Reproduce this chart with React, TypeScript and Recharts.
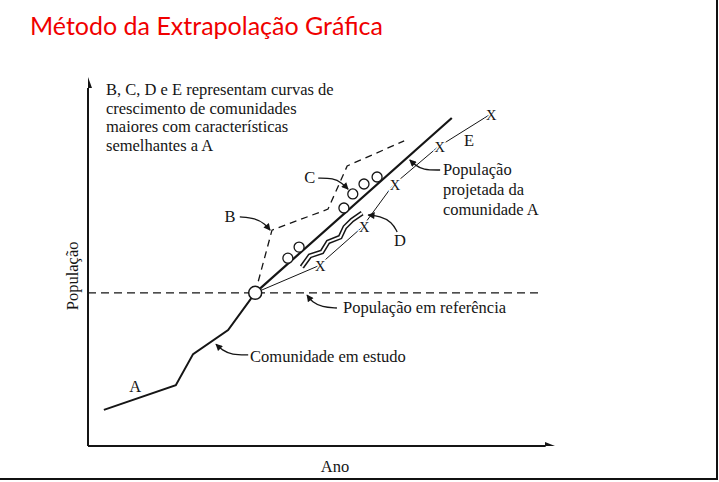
import React from 'react';
import {
  ComposedChart,
  Line,
  Scatter,
  XAxis,
  YAxis,
  ReferenceLine,
  ReferenceDot,
  Customized,
} from 'recharts';

// Unidades arbitrárias: Ano 0..100, População 0..100
const comunidadeA = [
  { x: 3.4, y: 9.8 },
  { x: 18.8, y: 16.5 },
  { x: 22.5, y: 24.9 },
  { x: 30.0, y: 31.4 },
  { x: 35.8, y: 41.5 },
];
const pontoReferencia = [{ x: 35.8, y: 41.5 }];
const populacaoReferencia = 41.5;
const fimReferencia = 96.8;
const projecaoA = [
  { x: 35.8, y: 41.5 },
  { x: 77.9, y: 88.9 },
];
const curvaB = [
  { x: 35.8, y: 41.5 },
  { x: 39.4, y: 58.5 },
  { x: 51.4, y: 64.2 },
  { x: 55.5, y: 75.9 },
  { x: 67.7, y: 82.7 },
];
const curvaC = [
  { x: 42.8, y: 50.9 },
  { x: 45.2, y: 53.9 },
  { x: 54.8, y: 64.5 },
  { x: 56.7, y: 68.3 },
  { x: 59.1, y: 71.0 },
  { x: 61.9, y: 72.9 },
];
const curvaD = [
  { x: 45.8, y: 48.5 },
  { x: 47.5, y: 51.5 },
  { x: 50.1, y: 52.6 },
  { x: 51.4, y: 55.3 },
  { x: 54.0, y: 56.6 },
  { x: 55.0, y: 59.3 },
  { x: 56.5, y: 61.2 },
  { x: 58.7, y: 63.1 },
];
const marcadoresE = [
  { x: 49.3, y: 48.8 },
  { x: 58.7, y: 59.3 },
  { x: 65.3, y: 70.7 },
  { x: 74.9, y: 81.0 },
  { x: 85.9, y: 89.7 },
];
const curvaE = [{ x: 35.8, y: 41.5 }, ...marcadoresE];

// setas de anotação
const setaC = [
  { x: 49.3, y: 72.6 },
  { x: 52.5, y: 72.6 },
  { x: 54.4, y: 71.3 },
  { x: 55.7, y: 69.6 },
];
const setaB = [
  { x: 32.5, y: 62.1 },
  { x: 35.8, y: 61.8 },
  { x: 37.9, y: 60.2 },
  { x: 39.0, y: 58.5 },
];
const setaProjetada = [
  { x: 75.4, y: 74.8 },
  { x: 71.7, y: 74.8 },
  { x: 70.0, y: 76.2 },
  { x: 68.9, y: 77.5 },
];
const setaD = [
  { x: 66.2, y: 58.0 },
  { x: 65.1, y: 60.7 },
  { x: 62.5, y: 62.3 },
  { x: 60.0, y: 62.6 },
];
const setaReferencia = [
  { x: 53.3, y: 37.4 },
  { x: 50.1, y: 37.7 },
  { x: 48.0, y: 39.0 },
  { x: 46.9, y: 40.9 },
];
const setaComunidade = [
  { x: 34.3, y: 24.7 },
  { x: 30.8, y: 24.7 },
  { x: 28.7, y: 26.0 },
  { x: 27.4, y: 27.6 },
];
const setas = [setaC, setaB, setaProjetada, setaD, setaReferencia, setaComunidade];

const titulo = 'Método da Extrapolação Gráfica';
const rotuloX = 'Ano';
const rotuloY = 'População';
const paragrafo = [
  'B, C, D e E representam curvas de',
  'crescimento de comunidades',
  'maiores com características',
  'semelhantes a A',
];
const textoProjetada = ['População', 'projetada da', 'comunidade A'];
const rotulos = [
  { x: 47.5, y: 71.3, t: 'C', a: 'middle' },
  { x: 30.4, y: 60.7, t: 'B', a: 'middle' },
  { x: 81.6, y: 81.3, t: 'E', a: 'middle' },
  { x: 66.8, y: 54.2, t: 'D', a: 'middle' },
  { x: 10.1, y: 14.6, t: 'A', a: 'middle' },
  { x: 54.6, y: 36.0, t: 'População em referência', a: 'start' },
  { x: 34.7, y: 22.8, t: 'Comunidade em estudo', a: 'start' },
  { x: 52.9, y: -7.0, t: rotuloX, a: 'middle' },
];

const SERIF = '"Liberation Serif", "Times New Roman", serif';
const INK = '#151515';
const FS = 16.5;

const circulo = (p: any) => (
  <circle cx={p.cx} cy={p.cy} r={5} fill="#fff" stroke={INK} strokeWidth={1.3} />
);
const circuloGrande = (p: any) => (
  <circle cx={p.cx} cy={p.cy} r={6.5} fill="#fff" stroke={INK} strokeWidth={1.5} />
);
const marcaX = (p: any) => (
  <text
    x={p.cx + 2}
    y={p.cy + 5}
    textAnchor="middle"
    fontFamily={SERIF}
    fontSize={14.5}
    fill={INK}
    stroke="#fff"
    strokeWidth={3}
    paintOrder="stroke"
  >
    X
  </text>
);
const setaEixoX = (p: any) => (
  <path d={`M${p.cx},${p.cy} L${p.cx - 10},${p.cy - 4} L${p.cx - 10},${p.cy + 4} Z`} fill={INK} />
);
const setaEixoY = (p: any) => (
  <path d={`M${p.cx},${p.cy} L${p.cx - 4},${p.cy + 11} L${p.cx + 4},${p.cy + 11} Z`} fill={INK} />
);

export default function App() {
  return (
    <div style={{ position: 'absolute', left: 0, top: 0, width: 719, height: 482, background: '#fff', overflow: 'hidden' }}>
      <div
        style={{
          position: 'absolute',
          left: 0,
          top: 0,
          width: 716,
          height: 478,
          borderRight: '2px solid #111',
          borderBottom: '2px solid #111',
        }}
      />
      <div style={{ position: 'absolute', left: 0, top: 0 }}>
        <ComposedChart width={719} height={482} margin={{ top: 77, right: 164, bottom: 36, left: 88 }}>
          <Customized
            component={() => (
              <defs>
                <marker
                  id="pontaSeta"
                  viewBox="0 0 10 10"
                  refX="9"
                  refY="5"
                  markerWidth="8"
                  markerHeight="7"
                  markerUnits="userSpaceOnUse"
                  orient="auto"
                >
                  <path d="M0,0 L10,5 L0,10 Z" fill={INK} />
                </marker>
              </defs>
            )}
          />
          <XAxis type="number" dataKey="x" domain={[0, 100]} hide allowDataOverflow />
          <YAxis type="number" dataKey="y" domain={[0, 100]} hide allowDataOverflow />
          <ReferenceLine
            segment={[
              { x: 0, y: 0 },
              { x: 98, y: 0 },
            ]}
            stroke={INK}
            strokeWidth={2}
            ifOverflow="visible"
          />
          <ReferenceLine
            segment={[
              { x: 0, y: 0 },
              { x: 0, y: 97 },
            ]}
            stroke={INK}
            strokeWidth={2}
            ifOverflow="visible"
          />
          <ReferenceLine
            segment={[
              { x: 0, y: populacaoReferencia },
              { x: fimReferencia, y: populacaoReferencia },
            ]}
            stroke={INK}
            strokeWidth={1.3}
            strokeDasharray="8 5"
            ifOverflow="visible"
          />
          <Line data={comunidadeA} dataKey="y" type="linear" stroke={INK} strokeWidth={2} dot={false} activeDot={false} isAnimationActive={false} />
          <Line data={projecaoA} dataKey="y" type="linear" stroke={INK} strokeWidth={2.2} dot={false} activeDot={false} isAnimationActive={false} />
          <Line data={curvaB} dataKey="y" type="linear" stroke={INK} strokeWidth={1.3} strokeDasharray="7 5" dot={false} activeDot={false} isAnimationActive={false} />
          <Line data={curvaE} dataKey="y" type="linear" stroke={INK} strokeWidth={1} dot={false} activeDot={false} isAnimationActive={false} />
          <Line data={curvaD} dataKey="y" type="linear" stroke={INK} strokeWidth={5} dot={false} activeDot={false} isAnimationActive={false} />
          <Line data={curvaD} dataKey="y" type="linear" stroke="#fff" strokeWidth={2} dot={false} activeDot={false} isAnimationActive={false} />
          {setas.map((s, i) => (
            <Line
              key={'seta' + i}
              data={s}
              dataKey="y"
              type="basis"
              stroke={INK}
              strokeWidth={1.3}
              dot={false}
              activeDot={false}
              markerEnd="url(#pontaSeta)"
              isAnimationActive={false}
            />
          ))}
          <Scatter data={curvaC} shape={circulo} isAnimationActive={false} />
          <Scatter data={marcadoresE} shape={marcaX} isAnimationActive={false} />
          <Scatter data={pontoReferencia} shape={circuloGrande} isAnimationActive={false} />
          <Scatter data={[{ x: 100, y: 0 }]} shape={setaEixoX} isAnimationActive={false} />
          <Scatter data={[{ x: 0, y: 100 }]} shape={setaEixoY} isAnimationActive={false} />
          {rotulos.map((r, i) => (
            <ReferenceDot
              key={'r' + i}
              x={r.x}
              y={r.y}
              r={0}
              ifOverflow="visible"
              shape={(p: any) => (
                <text x={p.cx} y={p.cy} textAnchor={r.a as any} fontFamily={SERIF} fontSize={FS} fill={INK}>
                  {r.t}
                </text>
              )}
            />
          ))}
          <ReferenceDot
            x={3.85}
            y={95.1}
            r={0}
            ifOverflow="visible"
            shape={(p: any) => (
              <text x={p.cx} y={p.cy} fontFamily={SERIF} fontSize={FS} fill={INK}>
                {paragrafo.map((l, i) => (
                  <tspan key={i} x={p.cx} dy={i === 0 ? 0 : 18.5}>
                    {l}
                  </tspan>
                ))}
              </text>
            )}
          />
          <ReferenceDot
            x={76.0}
            y={73.4}
            r={0}
            ifOverflow="visible"
            shape={(p: any) => (
              <text x={p.cx} y={p.cy} fontFamily={SERIF} fontSize={FS} fill={INK}>
                {textoProjetada.map((l, i) => (
                  <tspan key={i} x={p.cx} dy={i === 0 ? 0 : 20}>
                    {l}
                  </tspan>
                ))}
              </text>
            )}
          />
          <ReferenceDot
            x={-3.4}
            y={46.1}
            r={0}
            ifOverflow="visible"
            shape={(p: any) => (
              <text
                x={p.cx}
                y={p.cy}
                transform={`rotate(-90 ${p.cx} ${p.cy})`}
                textAnchor="middle"
                dominantBaseline="central"
                fontFamily={SERIF}
                fontSize={FS}
                fill={INK}
              >
                {rotuloY}
              </text>
            )}
          />
        </ComposedChart>
      </div>
      <svg style={{ position: 'absolute', left: 0, top: 0 }} width={719} height={60}>
        <text x={30} y={35} fill="#f00000" fontFamily="Lato, 'Open Sans', sans-serif" fontSize={25}>
          {titulo}
        </text>
      </svg>
    </div>
  );
}
